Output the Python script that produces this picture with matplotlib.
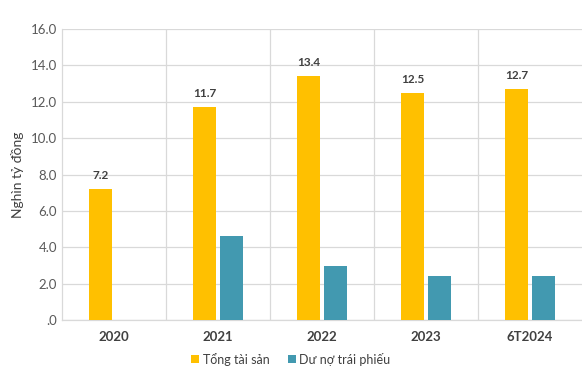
import matplotlib.pyplot as plt
import numpy as np

plt.rcParams['font.family'] = ['Lato', 'DejaVu Sans']

categories = ["2020", "2021", "2022", "2023", "6T2024"]
tong_tai_san = [7.2, 11.7, 13.4, 12.5, 12.7]
du_no_trai_phieu = [np.nan, 4.6, 3.0, 2.4, 2.4]
y_ticks = [0, 2, 4, 6, 8, 10, 12, 14, 16]

fig = plt.figure(figsize=(5.82, 3.77), dpi=100)
ax = fig.add_axes([0.1065, 0.151, 0.8935, 0.772])

x = np.arange(len(categories))
w = 0.22
off = 0.13
ax.bar(x - off, tong_tai_san, w, color='#FFC000', label='Tổng tài sản', zorder=3)
ax.bar(x + off, du_no_trai_phieu, w, color='#4299B0', label='Dư nợ trái phiếu', zorder=3)

for xi, v in zip(x, tong_tai_san):
    ax.text(xi - off, v + 0.45, f"{v:.1f}", ha='center', va='bottom',
            fontsize=8.5, fontweight='bold', color='#404040')

ax.set_xlim(-0.5, len(categories) - 0.5)
ax.set_ylim(0, 16)
ax.set_yticks(y_ticks)
ax.set_yticklabels(['.0'] + [f"{t:.1f}" for t in y_ticks[1:]], color='#595959', fontsize=9.5)
ax.set_xticks(x)
ax.set_xticklabels(categories, fontsize=9.5, fontweight='bold', color='#404040')
ax.tick_params(length=0)
ax.tick_params(axis='x', pad=8)
ax.set_ylabel("Nghìn tỷ đồng", fontsize=10, color='#404040', labelpad=5)

ax.grid(axis='y', color='#D9D9D9', lw=0.9, zorder=0)
for b in np.arange(0.5, len(categories) - 0.5, 1):
    ax.axvline(b, color='#D9D9D9', lw=0.9, zorder=0)
for s in ['top', 'right']:
    ax.spines[s].set_visible(False)
for s in ['left', 'bottom']:
    ax.spines[s].set_color('#D9D9D9')
    ax.spines[s].set_linewidth(0.9)

fig.legend(loc='lower center', bbox_to_anchor=(0.5, 0.0), ncol=2, frameon=False,
           fontsize=9, handlelength=0.6, handleheight=0.6, handletextpad=0.3,
           columnspacing=1.5, labelcolor='#404040')

fig.savefig('out.png', dpi=100)
